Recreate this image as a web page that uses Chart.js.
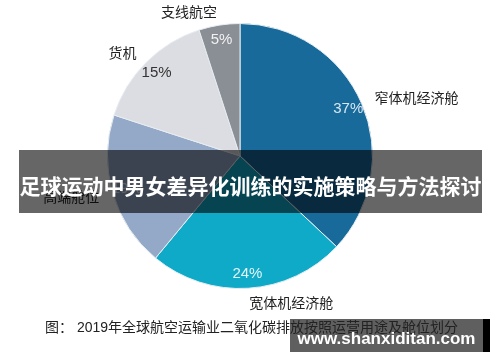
<!DOCTYPE html>
<html>
<head>
<meta charset="utf-8">
<script src="https://cdn.jsdelivr.net/npm/chart.js@4"></script>
<style>
  body { margin: 0; background: #fff; }
  #wrap { position: relative; width: 500px; height: 362px; overflow: hidden; }
  #banner {
    position: absolute; left: 19px; top: 150px; width: 463px; height: 63px;
    background: rgba(0, 0, 0, 0.6); color: #fff;
    font: bold 21px "Noto Sans CJK SC", sans-serif;
    line-height: 70px; text-align: center; white-space: nowrap;
  }
  #caption {
    position: absolute; left: 45px; top: 316px;
    font: 14px "Liberation Sans", "Noto Sans CJK SC", sans-serif; color: #222; white-space: nowrap;
  }
  #mark {
    position: absolute; left: 290px; top: 319px; width: 193px; height: 33px;
    background: #5f5f5f; border-right: 7px solid #000;
  }
  #markText {
    position: absolute; left: 290px; top: 319px; width: 193px; height: 33px;
    color: #fff; font: bold 17px "Liberation Sans", sans-serif;
    line-height: 39px; text-align: center;
  }
</style>
</head>
<body>
<div id="wrap">
  <canvas id="myChart" width="500" height="362"></canvas>
  <div id="banner">足球运动中男女差异化训练的实施策略与方法探讨</div>
  <div id="mark"></div>
  <div id="caption">图：&nbsp;2019年全球航空运输业二氧化碳排放按照运营用途及舱位划分</div>
  <div id="markText">www.shanxiditan.com</div>
</div>
<script>
var categories = ['窄体机经济舱', '宽体机经济舱', '高端舱位', '货机', '支线航空'];
var shares = [37, 24, 19, 15, 5];
var colors = ['#186a9b', '#0eaac8', '#93a9c7', '#dcdde2', '#8a8e95'];
var pctColors = ['#d8e8f2', '#e4f4f8', '#eef2f8', '#333333', '#f2f2f2'];

// draws percentages inside and category names outside each slice
var sliceLabels = {
    id: 'sliceLabels',
    afterDatasetsDraw: function(chart) {
        var ctx = chart.ctx;
        var arcs = chart.getDatasetMeta(0).data;
        arcs.forEach(function(arc, i) {
            var mid = (arc.startAngle + arc.endAngle) / 2;
            var cx = arc.x, cy = arc.y, r = arc.outerRadius;
            ctx.save();
            ctx.textBaseline = 'middle';
            ctx.font = '15px "Liberation Sans", Arial, sans-serif';
            ctx.fillStyle = pctColors[i];
            ctx.textAlign = 'center';
            ctx.fillText(shares[i] + '%', cx + Math.cos(mid) * r * 0.89, cy + Math.sin(mid) * r * 0.89);
            var lx = cx + Math.cos(mid) * (r + 14);
            var ly = cy + Math.sin(mid) * (r + 14);
            ctx.font = '14px "Noto Sans CJK SC", sans-serif';
            ctx.fillStyle = '#222';
            ctx.textAlign = lx >= cx ? 'left' : 'right';
            ctx.fillText(categories[i], lx, ly);
            ctx.restore();
        });
    }
};

var ctx = document.getElementById('myChart').getContext('2d');
var myChart = new Chart(ctx, {
    type: 'pie',
    data: {
        labels: categories,
        datasets: [{
            data: shares,
            backgroundColor: colors,
            borderColor: '#e6edf2',
            borderWidth: 1
        }]
    },
    options: {
        responsive: false,
        animation: false,
        layout: { padding: { top: 23, bottom: 73, left: 107, right: 127 } },
        plugins: {
            legend: { display: false },
            tooltip: { enabled: false }
        }
    },
    plugins: [sliceLabels]
});
</script>
</body>
</html>
